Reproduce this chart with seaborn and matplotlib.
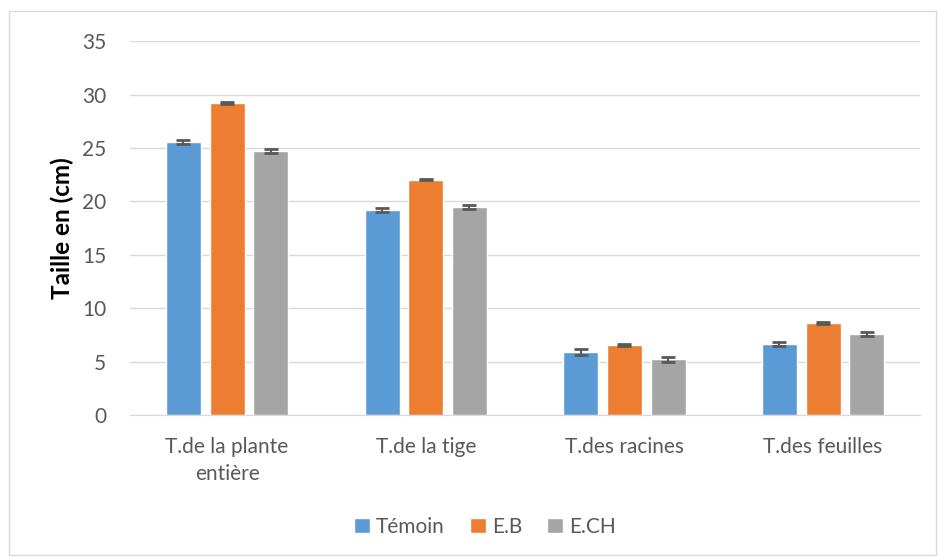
import pandas as pd
import matplotlib.pyplot as plt
import seaborn as sns
from matplotlib.patches import Rectangle

categories = ["T.de la plante\nentière", "T.de la tige", "T.des racines", "T.des feuilles"]
series = ["Témoin", "E.B", "E.CH"]
temoin = [25.55, 19.2, 5.9, 6.65]
eb = [29.2, 22.05, 6.55, 8.65]
ech = [24.7, 19.5, 5.2, 7.55]
temoin_err = [0.22, 0.2, 0.25, 0.22]
eb_err = [0.08, 0.08, 0.1, 0.1]
ech_err = [0.2, 0.2, 0.2, 0.2]
colors = ["#5B9BD5", "#ED7D31", "#A5A5A5"]

df = pd.DataFrame({
    "Categorie": categories * 3,
    "Serie": [s for s in series for _ in categories],
    "Taille": temoin + eb + ech,
    "Err": temoin_err + eb_err + ech_err,
})

sns.set_style("white")
plt.rcParams["font.family"] = ["Lato", "DejaVu Sans"]

fig = plt.figure(figsize=(9.38, 5.57), dpi=100)
ax = fig.add_axes([0.1386, 0.255, 0.8424, 0.671])

sns.barplot(data=df, x="Categorie", y="Taille", hue="Serie", palette=colors,
            width=0.66, gap=0.2, errorbar=None, ax=ax, saturation=1)

# error bars on top of each bar, in the order the bars were drawn
bars = [p for p in ax.patches if p.get_height() > 0]
for bar, err in zip(bars, df["Err"]):
    ax.errorbar(bar.get_x() + bar.get_width() / 2, bar.get_height(), yerr=err,
                fmt="none", ecolor="#595959", elinewidth=1.5, capsize=5, capthick=2)

ax.set_ylim(0, 35)
ax.set_yticks(range(0, 36, 5))
ax.grid(axis="y", color="#D9D9D9", linewidth=1)
ax.set_axisbelow(True)
for side in ["top", "right", "left"]:
    ax.spines[side].set_visible(False)
ax.spines["bottom"].set_color("#D9D9D9")
ax.tick_params(axis="both", length=0, labelsize=15, colors="#595959")
ax.tick_params(axis="y", pad=17)
ax.tick_params(axis="x", pad=16)
for lbl in ax.get_xticklabels():
    lbl.set_linespacing(1.45)
ax.set_xlabel("")
ax.set_ylabel("Taille en (cm)", fontsize=17.5, fontweight="bold", color="black")
ax.yaxis.set_label_coords(-0.071, 0.5)

ax.get_legend().remove()
handles, labels = ax.get_legend_handles_labels()
fig.legend(handles, labels, loc="center", bbox_to_anchor=(0.517, 0.054), ncol=3, frameon=False,
           fontsize=15, handlelength=0.75, handleheight=0.75, handletextpad=0.3,
           columnspacing=1.2, labelcolor="#595959")

fig.patches.append(Rectangle((9 / 938, 2 / 557), 927 / 938, 544 / 557, transform=fig.transFigure,
                             fill=False, edgecolor="#D9D9D9", linewidth=1))

plt.savefig("out.png", dpi=100)
